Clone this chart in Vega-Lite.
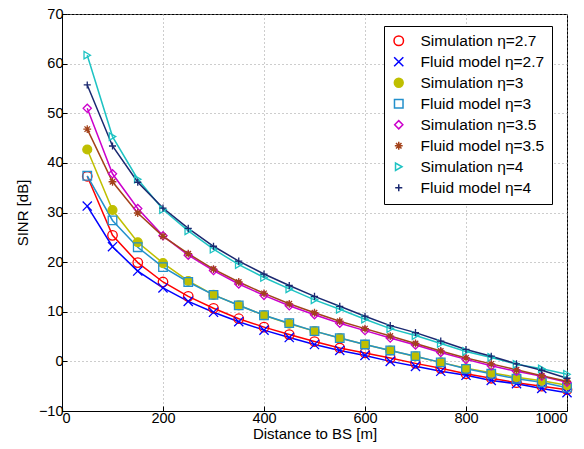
{
  "$schema": "https://vega.github.io/schema/vega-lite/v6.json",
  "autosize": "none",
  "width": 505,
  "height": 397,
  "padding": {"left": 62, "top": 14, "right": 17, "bottom": 38},
  "background": "white",
  "config": {
    "font": "Liberation Sans",
    "view": {"stroke": "black", "strokeWidth": 1},
    "axis": {
      "labelFont": "Liberation Sans", "labelFontSize": 14.5, "labelColor": "black",
      "titleFont": "Liberation Sans", "titleFontSize": 15, "titleFontWeight": "normal", "titleColor": "black",
      "domainColor": "black", "tickColor": "black", "tickSize": -5,
      "gridColor": "#9a9a9a", "gridDash": [1, 3], "gridWidth": 1, "gridOpacity": 1
    }
  },
  "datasets": {
    "wide": [
      {"x": 50, "a": 37.3, "b": 31.3, "c": 42.7, "d": 37.4, "e": 51.0, "f": 46.8, "g": 61.7, "h": 55.7},
      {"x": 100, "a": 25.4, "b": 23.1, "c": 30.5, "d": 28.4, "e": 37.8, "f": 36.2, "g": 45.3, "h": 43.4},
      {"x": 150, "a": 19.9, "b": 18.2, "c": 24.0, "d": 23.0, "e": 30.8, "f": 29.9, "g": 36.7, "h": 36.1},
      {"x": 200, "a": 16.0, "b": 14.8, "c": 19.8, "d": 19.0, "e": 25.3, "f": 25.2, "g": 30.6, "h": 30.9},
      {"x": 250, "a": 13.1, "b": 12.1, "c": 16.2, "d": 16.0, "e": 21.4, "f": 21.7, "g": 26.3, "h": 26.8},
      {"x": 300, "a": 10.7, "b": 9.9, "c": 13.4, "d": 13.4, "e": 18.3, "f": 18.6, "g": 22.6, "h": 23.2},
      {"x": 350, "a": 8.6, "b": 8.0, "c": 11.3, "d": 11.3, "e": 15.6, "f": 16.0, "g": 19.5, "h": 20.2},
      {"x": 400, "a": 6.9, "b": 6.3, "c": 9.3, "d": 9.3, "e": 13.3, "f": 13.7, "g": 16.9, "h": 17.6},
      {"x": 450, "a": 5.4, "b": 4.8, "c": 7.6, "d": 7.7, "e": 11.2, "f": 11.6, "g": 14.6, "h": 15.3},
      {"x": 500, "a": 4.0, "b": 3.4, "c": 6.1, "d": 6.1, "e": 9.4, "f": 9.8, "g": 12.4, "h": 13.1},
      {"x": 550, "a": 2.7, "b": 2.2, "c": 4.7, "d": 4.7, "e": 7.7, "f": 8.1, "g": 10.5, "h": 11.1},
      {"x": 600, "a": 1.7, "b": 1.2, "c": 3.4, "d": 3.4, "e": 6.2, "f": 6.6, "g": 8.5, "h": 9.1},
      {"x": 650, "a": 0.7, "b": 0.0, "c": 2.2, "d": 2.2, "e": 4.7, "f": 5.1, "g": 6.6, "h": 7.2},
      {"x": 700, "a": -0.4, "b": -1.0, "c": 1.0, "d": 1.05, "e": 3.3, "f": 3.6, "g": 5.2, "h": 5.8},
      {"x": 750, "a": -1.4, "b": -2.0, "c": -0.2, "d": -0.2, "e": 1.8, "f": 2.1, "g": 3.6, "h": 4.1},
      {"x": 800, "a": -2.5, "b": -2.8, "c": -1.4, "d": -1.5, "e": 0.4, "f": 0.7, "g": 2.0, "h": 2.4},
      {"x": 850, "a": -3.4, "b": -3.85, "c": -2.3, "d": -2.5, "e": -0.9, "f": -0.5, "g": 0.8, "h": 1.05},
      {"x": 900, "a": -4.3, "b": -4.5, "c": -3.2, "d": -3.5, "e": -2.0, "f": -1.7, "g": -0.6, "h": -0.5},
      {"x": 950, "a": -5.0, "b": -5.45, "c": -3.9, "d": -4.2, "e": -3.0, "f": -2.9, "g": -1.5, "h": -1.8},
      {"x": 1000, "a": -5.7, "b": -6.3, "c": -4.8, "d": -5.3, "e": -4.2, "f": -4.0, "g": -2.6, "h": -3.4}
    ]
  },
  "data": {"name": "wide"},
  "transform": [
    {"fold": ["a", "b", "c", "d", "e", "f", "g", "h"], "as": ["series", "y"]}
  ],
  "encoding": {
    "x": {"field": "x", "type": "quantitative", "title": "Distance to BS [m]",
      "scale": {"domain": [0, 1000], "nice": false},
      "axis": {"values": [0, 200, 400, 600, 800, 1000], "format": "d", "labelPadding": 5, "titlePadding": 2}},
    "y": {"field": "y", "type": "quantitative", "title": "SINR [dB]",
      "scale": {"domain": [-10, 70], "nice": false, "zero": false},
      "axis": {"values": [-10, 0, 10, 20, 30, 40, 50, 60, 70], "labelPadding": 4, "titlePadding": 8}},
    "color": {"field": "series", "type": "nominal",
      "scale": {
        "domain": ["a", "b", "c", "d", "e", "f", "g", "h"],
        "range": ["#ff0000", "#0000ff", "#bfbf00", "#2390cc", "#cc00cc", "#a3421a", "#1ec3c3", "#1a2870"]
      },
      "legend": {
        "orient": "none", "legendX": 322, "legendY": 12,
        "title": null, "padding": 7, "strokeColor": "black", "fillColor": "white",
        "labelFont": "Liberation Sans", "labelFontSize": 15.5, "labelColor": "black", "labelLimit": 300,
        "symbolSize": 64, "symbolStrokeWidth": 1.5, "labelOffset": 14, "rowPadding": 4,
        "labelExpr": "{'a': 'Simulation η=2.7', 'b': 'Fluid model η=2.7', 'c': 'Simulation η=3', 'd': 'Fluid model η=3', 'e': 'Simulation η=3.5', 'f': 'Fluid model η=3.5', 'g': 'Simulation η=4', 'h': 'Fluid model η=4'}[datum.value]"
      }
    }
  },
  "layer": [
    {"mark": {"type": "line", "strokeWidth": 1.5}, "encoding": {"detail": {"field": "series"}}},
    {"mark": {"type": "point", "filled": false, "strokeWidth": 1.3, "opacity": 1},
      "encoding": {
        "shape": {"field": "series", "type": "nominal", "legend": null,
          "scale": {
            "domain": ["a", "b", "c", "d", "e", "f", "g", "h"],
            "range": ["circle", "M-1,-1L1,1M-1,1L1,-1", "circle", "square", "diamond", "M-1,0L1,0M0,-1L0,1M-0.7,-0.7L0.7,0.7M-0.7,0.7L0.7,-0.7", "triangle-right", "M-1,0L1,0M0,-1L0,1"]
          }},
        "size": {"field": "series", "type": "nominal", "legend": null,
          "scale": {
            "domain": ["a", "b", "c", "d", "e", "f", "g", "h"],
            "range": [90, 50, 90, 80, 130, 60, 120, 70]
          }},
        "fill": {"field": "series", "type": "nominal", "legend": null,
          "scale": {
            "domain": ["a", "b", "c", "d", "e", "f", "g", "h"],
            "range": ["transparent", "transparent", "#bfbf00", "transparent", "transparent", "transparent", "transparent", "transparent"]
          }}
      }}
  ]
}
